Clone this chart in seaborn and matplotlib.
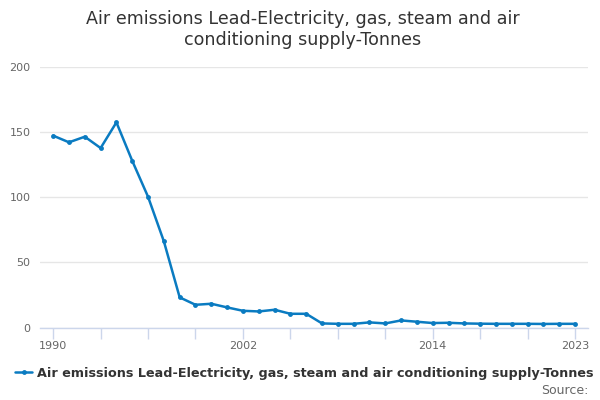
import matplotlib
matplotlib.use("Agg")
import matplotlib.pyplot as plt
import seaborn as sns
import pandas as pd

years = list(range(1990, 2024))
values = [147.3, 142.2, 146.5, 137.8, 157.5, 128.0, 100.4, 66.2, 23.2, 17.5,
          18.3, 15.5, 12.9, 12.4, 13.7, 10.6, 10.6, 3.2, 2.9, 2.9,
          4.0, 3.2, 5.5, 4.5, 3.5, 3.7, 3.2, 3.0, 2.9, 2.9,
          2.9, 2.8, 2.9, 2.9]
series_name = "Air emissions Lead-Electricity, gas, steam and air conditioning supply-Tonnes"
title_lines = ["Air emissions Lead-Electricity, gas, steam and air",
               "conditioning supply-Tonnes"]
x_tick_labels = [1990, 2002, 2014, 2023]
y_ticks = [0, 50, 100, 150, 200]

df = pd.DataFrame({"year": years, "value": values, "series": series_name})

sns.set_theme(style="white")
plt.rcParams["font.family"] = ["DejaVu Sans"]

fig = plt.figure(figsize=(6, 4), dpi=100)
ax = fig.add_axes([0.067, 0.181, 0.913, 0.6515])

color = "#0a7bc1"
sns.lineplot(data=df, x="year", y="value", hue="series", palette=[color],
             marker="o", markersize=3.5, markeredgewidth=0, linewidth=1.8,
             ax=ax, legend=False)

ax.set_xlim(1989.18, 2023.82)
ax.set_ylim(0, 200)
ax.set_yticks(y_ticks)
ax.set_yticklabels([str(v) for v in y_ticks])
ax.yaxis.grid(True, color="#e6e6e6", linewidth=1)
ax.set_axisbelow(True)

tick_years = list(range(1990, 2024, 3))
ax.set_xticks(tick_years)
ax.set_xticklabels([str(y) if y in x_tick_labels else "" for y in tick_years])
ax.tick_params(axis="x", which="major", length=8, width=1, color="#ccd6eb",
               labelsize=8, labelcolor="#666666", pad=2, direction="out", bottom=True)
ax.tick_params(axis="y", length=0, labelsize=8, labelcolor="#666666", pad=7)

for s in ["top", "right", "left"]:
    ax.spines[s].set_visible(False)
ax.spines["bottom"].set_color("#ccd6eb")
ax.spines["bottom"].set_linewidth(1)
ax.set_xlabel("")
ax.set_ylabel("")

fig.text(0.505, 1 - 24 / 400, title_lines[0], ha="center", va="baseline",
         fontsize=12.6, color="#333333")
fig.text(0.505, 1 - 45 / 400, title_lines[1], ha="center", va="baseline",
         fontsize=12.6, color="#333333")

handle = plt.Line2D([], [], color=color, linewidth=1.8, marker="o",
                    markersize=3.5, markeredgewidth=0)
fig.legend([handle], [series_name], loc="center left",
           bbox_to_anchor=(0.019, 0.067), frameon=False, handlelength=1.3,
           handletextpad=0.4, borderaxespad=0, borderpad=0.3,
           prop={"weight": "bold", "size": 9.2},
           labelcolor="#333333")

fig.text(0.98, 1 - 391 / 400, "Source:", ha="right", va="center", fontsize=9,
         color="#666666")

fig.savefig("out.png", dpi=100)
